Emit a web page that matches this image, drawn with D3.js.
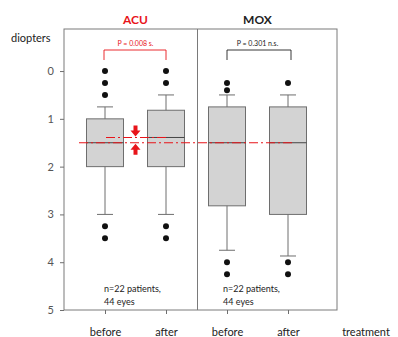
<!DOCTYPE html>
<html>
<head>
<meta charset="utf-8">
<script src="https://cdn.jsdelivr.net/npm/d3@7"></script>
<style>
  body { margin: 0; background: #fff; }
  text { font-family: Lato, "Open Sans", sans-serif; }
</style>
</head>
<body>
<div id="chart"></div>
<script>
// chart data
var groups = ["ACU", "MOX"];
var boxes = ["ACU-before", "ACU-after", "MOX-before", "MOX-after"];
var xLabels = ["before", "after", "before", "after"];
var q1 = [1.0, 0.82, 0.75, 0.75];
var medians = [1.5, 1.39, 1.5, 1.5];
var q3 = [2.0, 2.0, 2.82, 3.0];
var whiskerTop = [0.75, 0.5, 0.5, 0.5];
var whiskerBottom = [3.0, 3.0, 3.75, 3.87];
var outliers = [
  [0, 0.25, 0.5, 3.25, 3.5],
  [0, 0.25, 3.25, 3.5],
  [0.25, 0.4, 4.0, 4.25],
  [0.25, 4.0, 4.25]
];
var yTicks = [0, 1, 2, 3, 4, 5];
var pTexts = ["P = 0.008 s.", "P = 0.301 n.s."];
var refLevel = 1.5;    // before-treatment median (red dash-dot)
var acuAfterLevel = 1.39;

var svgWidth = 398;
var svgHeight = 337;

var svg = d3.select("#chart").append("svg")
  .attr("width", svgWidth)
  .attr("height", svgHeight);

var frame = { left: 64, right: 337, top: 29, bottom: 310 };

var yScale = d3.scaleLinear()
  .domain([-0.88, 5])
  .range([frame.top, frame.bottom]);

var xScale = d3.scalePoint()
  .domain(boxes)
  .range([105, 288]);

var boxW = 37;
var capW = 16;
var grey = "#6e6e6e";

// frame and divider
svg.append("rect")
  .attr("x", frame.left).attr("y", frame.top)
  .attr("width", frame.right - frame.left)
  .attr("height", frame.bottom - frame.top)
  .attr("fill", "none").attr("stroke", "#7a7a7a").attr("stroke-width", 1);

var divX = (xScale(boxes[1]) + xScale(boxes[2])) / 2 + 1;
svg.append("line")
  .attr("x1", divX).attr("x2", divX)
  .attr("y1", frame.top).attr("y2", frame.bottom)
  .attr("stroke", "#7a7a7a");

// y axis
var yAxis = d3.axisLeft(yScale).tickValues(yTicks).tickSize(4).tickPadding(6)
  .tickFormat(d3.format("d"));
var yG = svg.append("g")
  .attr("transform", `translate(${frame.left},0)`)
  .call(yAxis);
yG.select(".domain").remove();
yG.selectAll(".tick line").attr("stroke", grey);
yG.selectAll(".tick text").attr("fill", "#555").attr("font-size", 11);

// x axis
var xAxis = d3.axisBottom(xScale).tickSize(4).tickPadding(14)
  .tickFormat((d, i) => xLabels[i]);
var xG = svg.append("g")
  .attr("transform", `translate(0,${frame.bottom})`)
  .call(xAxis);
xG.select(".domain").remove();
xG.selectAll(".tick line").attr("stroke", grey);
xG.selectAll(".tick text").attr("fill", "#222").attr("font-size", 11);

svg.append("text")
  .attr("x", 366).attr("y", 336)
  .attr("text-anchor", "middle")
  .attr("font-size", 11).attr("fill", "#222")
  .text("treatment");

svg.append("text")
  .attr("x", 11).attr("y", 42)
  .attr("font-size", 11).attr("fill", "#222")
  .text("diopters");

// box plots
boxes.forEach(function (b, i) {
  var cx = xScale(b);
  var g = svg.append("g");
  g.append("line")
    .attr("x1", cx).attr("x2", cx)
    .attr("y1", yScale(whiskerTop[i])).attr("y2", yScale(whiskerBottom[i]))
    .attr("stroke", grey);
  [whiskerTop[i], whiskerBottom[i]].forEach(function (w) {
    g.append("line")
      .attr("x1", cx - capW / 2).attr("x2", cx + capW / 2)
      .attr("y1", yScale(w)).attr("y2", yScale(w))
      .attr("stroke", grey);
  });
  g.append("rect")
    .attr("x", cx - boxW / 2).attr("y", yScale(q1[i]))
    .attr("width", boxW).attr("height", yScale(q3[i]) - yScale(q1[i]))
    .attr("fill", "#d3d3d3").attr("stroke", grey);
  g.append("line")
    .attr("x1", cx - boxW / 2).attr("x2", cx + boxW / 2)
    .attr("y1", yScale(medians[i])).attr("y2", yScale(medians[i]))
    .attr("stroke", "#444");
  g.selectAll("circle").data(outliers[i]).enter().append("circle")
    .attr("cx", cx).attr("cy", d => yScale(d))
    .attr("r", 3).attr("fill", "#111");
});

// red dash-dot reference lines
svg.append("line")
  .attr("x1", 79).attr("x2", 292)
  .attr("y1", yScale(refLevel)).attr("y2", yScale(refLevel))
  .attr("stroke", "#e8141a").attr("stroke-width", 1.2)
  .attr("stroke-dasharray", "9,3,2,3");
svg.append("line")
  .attr("x1", xScale(boxes[0]) + 1).attr("x2", xScale(boxes[1]))
  .attr("y1", yScale(acuAfterLevel)).attr("y2", yScale(acuAfterLevel))
  .attr("stroke", "#e8141a").attr("stroke-width", 1.2)
  .attr("stroke-dasharray", "9,3,2,3");

// red arrows pointing at the gap
var ax = (xScale(boxes[0]) + xScale(boxes[1])) / 2;
var yA = yScale(acuAfterLevel), yB = yScale(refLevel);
svg.append("path")
  .attr("d", `M${ax - 2},${yA - 12} h4 v5 h3 l-5,6 l-5,-6 h3 z`)
  .attr("fill", "#e8141a");
svg.append("path")
  .attr("d", `M${ax - 2},${yB + 12} h4 v-5 h3 l-5,-6 l-5,6 h3 z`)
  .attr("fill", "#e8141a");

// group titles and p-value brackets
var pairs = [[boxes[0], boxes[1]], [boxes[2], boxes[3]]];
var titleColors = ["#e8141a", "#222"];
pairs.forEach(function (p, i) {
  var x1 = xScale(p[0]) - (i ? 0 : 1), x2 = xScale(p[1]) + (i ? 3 : 0);
  var mid = (xScale(p[0]) + xScale(p[1])) / 2;
  svg.append("text")
    .attr("x", mid).attr("y", 24)
    .attr("text-anchor", "middle")
    .attr("font-size", 12).attr("font-weight", "bold")
    .attr("fill", titleColors[i])
    .text(groups[i]);
  svg.append("path")
    .attr("d", `M${x1},60 V50 H${x2} V60`)
    .attr("fill", "none").attr("stroke", titleColors[i]).attr("stroke-width", 0.9);
  svg.append("text")
    .attr("x", mid).attr("y", 46)
    .attr("text-anchor", "middle")
    .attr("font-size", 7).attr("fill", titleColors[i])
    .text(pTexts[i]);
  svg.append("text")
    .attr("x", xScale(p[0]) - 1 - (i ? 3 : 0)).attr("y", 292)
    .attr("font-size", 9).attr("fill", "#222")
    .text("n=22 patients,");
  svg.append("text")
    .attr("x", xScale(p[0]) - 1 - (i ? 3 : 0)).attr("y", 305)
    .attr("font-size", 9).attr("fill", "#222")
    .text("44 eyes");
});
</script>
</body>
</html>
